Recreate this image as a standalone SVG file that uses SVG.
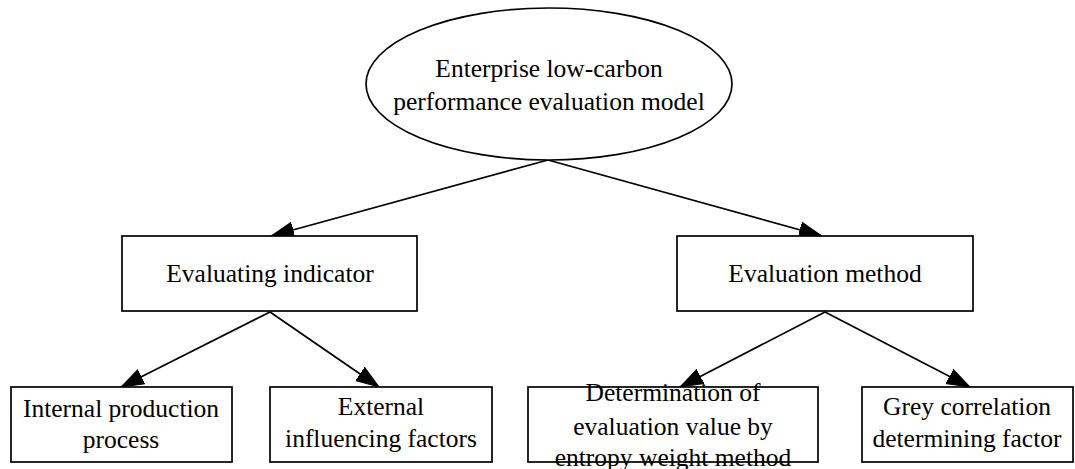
<svg xmlns="http://www.w3.org/2000/svg" width="1075" height="469" viewBox="0 0 1075 469">
<style>
  .shape { fill: #ffffff; stroke: #000000; stroke-width: 1.7; }
  .label { font-family: 'Liberation Serif', Tinos, 'Times New Roman', 'DejaVu Serif', serif; font-size: 25.5px; fill: #000000; text-anchor: middle; }
  .edge { fill: none; stroke: #000000; stroke-width: 1.7; marker-end: url(#arrow); }
</style>
<defs>
  <marker id="arrow" markerUnits="userSpaceOnUse" markerWidth="25" markerHeight="19" viewBox="0 0 25 19" refX="23" refY="9.5" orient="auto">
    <path d="M0,1.5 L23,9.5 L0,17.5 Z" fill="#000000" stroke="#000000" stroke-width="1"/>
  </marker>
</defs>
<rect width="1075" height="469" fill="#ffffff"/>
<g id="connectors">
  <path class="edge" d="M548,160 L271,236"/>
  <path class="edge" d="M548,160 L822,236"/>
  <path class="edge" d="M270,312 L121,387"/>
  <path class="edge" d="M270,312 L379,387"/>
  <path class="edge" d="M825,312 L680,387"/>
  <path class="edge" d="M825,312 L970,387"/>
</g>
<g id="node-model">
  <ellipse class="shape" cx="549" cy="84" rx="183" ry="76"/>
  <text class="label" x="549" y="77">Enterprise low-carbon</text>
  <text class="label" x="549" y="110">performance evaluation model</text>
</g>
<g id="node-indicator">
  <rect class="shape" x="122" y="236" width="295" height="75"/>
  <text class="label" x="270" y="282">Evaluating indicator</text>
</g>
<g id="node-method">
  <rect class="shape" x="677" y="236" width="296" height="75"/>
  <text class="label" x="825" y="282">Evaluation method</text>
</g>
<g id="node-internal">
  <rect class="shape" x="11" y="387" width="221" height="75"/>
  <text class="label" x="121" y="417">Internal production</text>
  <text class="label" x="121" y="448">process</text>
</g>
<g id="node-external">
  <rect class="shape" x="270" y="387" width="222" height="75"/>
  <text class="label" x="381" y="415">External</text>
  <text class="label" x="381" y="447">influencing factors</text>
</g>
<g id="node-entropy">
  <rect class="shape" x="528" y="387" width="290" height="75"/>
  <text class="label" x="673" y="401">Determination of</text>
  <text class="label" x="673" y="435">evaluation value by</text>
  <text class="label" x="673" y="466">entropy weight method</text>
</g>
<g id="node-grey">
  <rect class="shape" x="862" y="387" width="211" height="75"/>
  <text class="label" x="967" y="415">Grey correlation</text>
  <text class="label" x="967" y="447">determining factor</text>
</g>
</svg>
